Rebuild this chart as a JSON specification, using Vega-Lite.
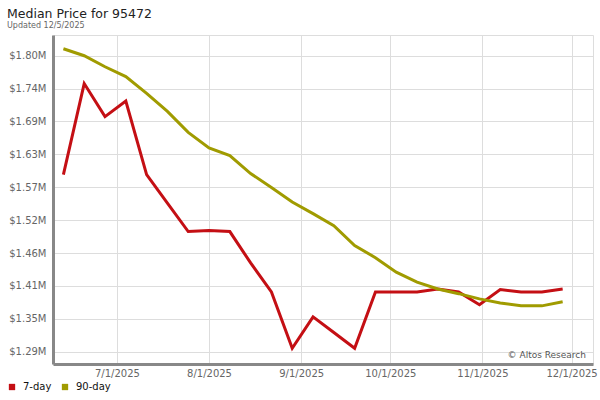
{
  "$schema": "https://vega.github.io/schema/vega-lite/v6.json",
  "autosize": {"type": "none"},
  "width": 540,
  "height": 329,
  "padding": {"left": 53, "top": 35, "right": 7, "bottom": 36},
  "background": "white",
  "config": {
    "font": "DejaVu Sans",
    "view": {"stroke": "#dddddd", "strokeWidth": 1},
    "axisX": {
      "title": null,
      "labelFontSize": 10,
      "labelColor": "#666666",
      "labelPadding": 4,
      "ticks": false,
      "domainColor": "#888888",
      "domainWidth": 3,
      "gridColor": "#dddddd",
      "gridWidth": 1,
      "labelFlush": false
    },
    "axisY": {
      "title": null,
      "labelFontSize": 10,
      "labelColor": "#666666",
      "labelPadding": 7,
      "ticks": false,
      "domainColor": "#888888",
      "domainWidth": 3,
      "gridColor": "#dddddd",
      "gridWidth": 1
    }
  },
  "title": {
    "text": "Median Price for 95472",
    "subtitle": "Updated 12/5/2025",
    "anchor": "start",
    "frame": "group",
    "dx": -46,
    "offset": 5,
    "fontSize": 12.5,
    "fontWeight": "normal",
    "color": "#222222",
    "subtitleFontSize": 8,
    "subtitleColor": "#666666",
    "subtitlePadding": 2,
    "font": "DejaVu Sans",
    "subtitleFont": "DejaVu Sans"
  },
  "layer": [
    {
      "data": {
        "values": [
          {"date": "2025-06-13", "series": "7-day", "price": 1595000},
          {"date": "2025-06-20", "series": "7-day", "price": 1752000},
          {"date": "2025-06-27", "series": "7-day", "price": 1695000},
          {"date": "2025-07-04", "series": "7-day", "price": 1722000},
          {"date": "2025-07-11", "series": "7-day", "price": 1595000},
          {"date": "2025-07-18", "series": "7-day", "price": 1546000},
          {"date": "2025-07-25", "series": "7-day", "price": 1497000},
          {"date": "2025-08-01", "series": "7-day", "price": 1499000},
          {"date": "2025-08-08", "series": "7-day", "price": 1497000},
          {"date": "2025-08-15", "series": "7-day", "price": 1443000},
          {"date": "2025-08-22", "series": "7-day", "price": 1393000},
          {"date": "2025-08-29", "series": "7-day", "price": 1296000},
          {"date": "2025-09-05", "series": "7-day", "price": 1350000},
          {"date": "2025-09-12", "series": "7-day", "price": 1323000},
          {"date": "2025-09-19", "series": "7-day", "price": 1296000},
          {"date": "2025-09-26", "series": "7-day", "price": 1393000},
          {"date": "2025-10-03", "series": "7-day", "price": 1393000},
          {"date": "2025-10-10", "series": "7-day", "price": 1393000},
          {"date": "2025-10-17", "series": "7-day", "price": 1398000},
          {"date": "2025-10-24", "series": "7-day", "price": 1393000},
          {"date": "2025-10-31", "series": "7-day", "price": 1371000},
          {"date": "2025-11-07", "series": "7-day", "price": 1397000},
          {"date": "2025-11-14", "series": "7-day", "price": 1393000},
          {"date": "2025-11-21", "series": "7-day", "price": 1393000},
          {"date": "2025-11-28", "series": "7-day", "price": 1398000},
          {"date": "2025-06-13", "series": "90-day", "price": 1812000},
          {"date": "2025-06-20", "series": "90-day", "price": 1800000},
          {"date": "2025-06-27", "series": "90-day", "price": 1781000},
          {"date": "2025-07-04", "series": "90-day", "price": 1764000},
          {"date": "2025-07-11", "series": "90-day", "price": 1735000},
          {"date": "2025-07-18", "series": "90-day", "price": 1704000},
          {"date": "2025-07-25", "series": "90-day", "price": 1668000},
          {"date": "2025-08-01", "series": "90-day", "price": 1641000},
          {"date": "2025-08-08", "series": "90-day", "price": 1628000},
          {"date": "2025-08-15", "series": "90-day", "price": 1597000},
          {"date": "2025-08-22", "series": "90-day", "price": 1573000},
          {"date": "2025-08-29", "series": "90-day", "price": 1548000},
          {"date": "2025-09-05", "series": "90-day", "price": 1528000},
          {"date": "2025-09-12", "series": "90-day", "price": 1507000},
          {"date": "2025-09-19", "series": "90-day", "price": 1473000},
          {"date": "2025-09-26", "series": "90-day", "price": 1452000},
          {"date": "2025-10-03", "series": "90-day", "price": 1427000},
          {"date": "2025-10-10", "series": "90-day", "price": 1410000},
          {"date": "2025-10-17", "series": "90-day", "price": 1398000},
          {"date": "2025-10-24", "series": "90-day", "price": 1390000},
          {"date": "2025-10-31", "series": "90-day", "price": 1381000},
          {"date": "2025-11-07", "series": "90-day", "price": 1374000},
          {"date": "2025-11-14", "series": "90-day", "price": 1369000},
          {"date": "2025-11-21", "series": "90-day", "price": 1369000},
          {"date": "2025-11-28", "series": "90-day", "price": 1376000}
        ]
      },
      "mark": {"type": "line", "strokeWidth": 3, "strokeJoin": "miter"},
      "encoding": {
        "x": {
          "field": "date",
          "type": "temporal",
          "scale": {
            "type": "utc",
            "domain": [
              {"year": 2025, "month": 6, "date": 9, "hours": 12, "utc": true},
              {"year": 2025, "month": 12, "date": 8, "hours": 5, "utc": true}
            ]
          },
          "axis": {
            "values": [
              {"year": 2025, "month": 7, "date": 1, "utc": true},
              {"year": 2025, "month": 8, "date": 1, "utc": true},
              {"year": 2025, "month": 9, "date": 1, "utc": true},
              {"year": 2025, "month": 10, "date": 1, "utc": true},
              {"year": 2025, "month": 11, "date": 1, "utc": true},
              {"year": 2025, "month": 12, "date": 1, "utc": true}
            ],
            "labelExpr": "utcFormat(datum.value, '%-m/%-d/%Y')"
          }
        },
        "y": {
          "field": "price",
          "type": "quantitative",
          "scale": {"domain": [1268800, 1835700], "zero": false, "nice": false},
          "axis": {
            "values": [1290000, 1346667, 1403333, 1460000, 1516667, 1573333, 1630000, 1686667, 1743333, 1800000],
            "labelExpr": "['$1.29M','$1.35M','$1.41M','$1.46M','$1.52M','$1.57M','$1.63M','$1.69M','$1.74M','$1.80M'][round((datum.value-1290000)/56666.67)]"
          }
        },
        "color": {
          "field": "series",
          "type": "nominal",
          "scale": {"domain": ["7-day", "90-day"], "range": ["#c40f14", "#a09b00"]},
          "legend": {
            "title": null,
            "orient": "none",
            "direction": "horizontal",
            "legendX": -46,
            "legendY": 347,
            "symbolType": "square",
            "symbolSize": 40,
            "symbolStrokeWidth": 0,
            "labelFontSize": 10,
            "labelColor": "#111111",
            "columnPadding": 8,
            "labelOffset": 6,
            "encode": {
              "symbols": {"update": {"fill": {"scale": "color", "field": "value"}, "fillOpacity": {"value": 1}}}
            }
          }
        }
      }
    },
    {
      "data": {"values": [{"label": "© Altos Research", "date": "2025-12-08T05:00:00Z", "price": 1284000}]},
      "mark": {"type": "text", "align": "right", "baseline": "middle", "dx": -7, "fontSize": 9, "color": "#555555"},
      "encoding": {
        "x": {
          "field": "date",
          "type": "temporal",
          "axis": {
            "values": [
              {"year": 2025, "month": 7, "date": 1, "utc": true},
              {"year": 2025, "month": 8, "date": 1, "utc": true},
              {"year": 2025, "month": 9, "date": 1, "utc": true},
              {"year": 2025, "month": 10, "date": 1, "utc": true},
              {"year": 2025, "month": 11, "date": 1, "utc": true},
              {"year": 2025, "month": 12, "date": 1, "utc": true}
            ],
            "labelExpr": "utcFormat(datum.value, '%-m/%-d/%Y')"
          }
        },
        "y": {
          "field": "price",
          "type": "quantitative",
          "axis": {
            "values": [1290000, 1346667, 1403333, 1460000, 1516667, 1573333, 1630000, 1686667, 1743333, 1800000],
            "labelExpr": "['$1.29M','$1.35M','$1.41M','$1.46M','$1.52M','$1.57M','$1.63M','$1.69M','$1.74M','$1.80M'][round((datum.value-1290000)/56666.67)]"
          }
        },
        "text": {"field": "label"}
      }
    }
  ]
}
